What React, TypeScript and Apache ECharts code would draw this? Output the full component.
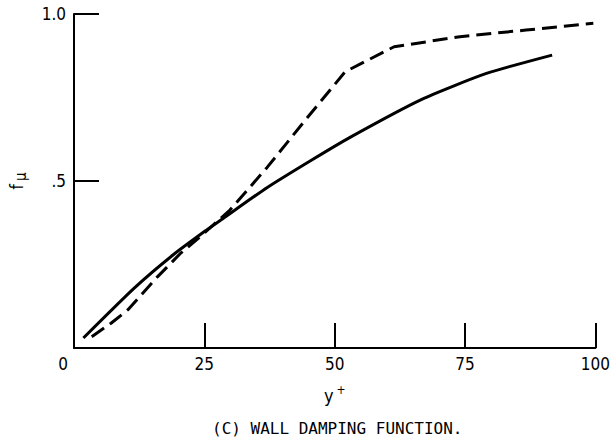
import React, { useEffect, useRef } from "react";
import * as echarts from "echarts";

const yTickLabels: Record<string, string> = { "0": "", "0.5": ".5", "1": "1.0" };

const solidX = [1.8, 11.6, 19.1, 25.4, 28.6, 37, 45.6, 53.2, 66.5, 79.1, 91.7];
const solidY = [0.03, 0.18, 0.28, 0.353, 0.388, 0.48, 0.563, 0.633, 0.743, 0.822, 0.877];

const dashedX = [3.4, 7.1, 10.3, 16, 20.4, 24.2, 29.9, 37, 44.4, 52, 61.4, 74, 86.7, 99.6];
const dashedY = [0.034, 0.074, 0.114, 0.213, 0.283, 0.333, 0.413, 0.54, 0.683, 0.827, 0.902, 0.932, 0.952, 0.972];

const caption = "(C) WALL DAMPING FUNCTION.";
const FONT = "DejaVu Sans Condensed";
const MONO = "DejaVu Sans Mono";

export default function App() {
  const ref = useRef<HTMLDivElement>(null);
  useEffect(() => {
    if (!ref.current) return;
    const chart = echarts.init(ref.current, null, { renderer: "svg" });
    chart.setOption({
      animation: false,
      backgroundColor: "#ffffff",
      grid: { left: 70, right: 16, top: 14, bottom: 94 },
      xAxis: {
        type: "value",
        min: 0,
        max: 100,
        interval: 25,
        name: "{y|y}{p|+}",
        nameLocation: "middle",
        nameGap: 36,
        nameTextStyle: {
          rich: {
            y: { fontFamily: FONT, fontSize: 18, color: "#000" },
            p: { fontFamily: FONT, fontSize: 12, color: "#000", padding: [0, 0, 10, 3] },
          },
        },
        axisLine: { show: true, lineStyle: { color: "#000", width: 2 } },
        axisTick: { show: true, inside: true, length: 25, lineStyle: { color: "#000", width: 2 } },
        splitLine: { show: false },
        axisLabel: {
          margin: 7,
          color: "#000",
          fontFamily: FONT,
          fontSize: 17,
          formatter: (v: number) => (v === 0 ? "{z|0}" : String(v)),
          rich: { z: { fontFamily: FONT, fontSize: 17, color: "#000", padding: [0, 22, 0, 0] } },
        },
      },
      yAxis: {
        type: "value",
        min: 0,
        max: 1,
        interval: 0.5,
        name: "{f|f}{s|μ}",
        nameLocation: "middle",
        nameRotate: 90,
        nameGap: 46,
        nameTextStyle: {
          rich: {
            f: { fontFamily: FONT, fontSize: 17, color: "#000" },
            s: { fontFamily: FONT, fontSize: 15, color: "#000", padding: [8, 0, 0, 3] },
          },
        },
        axisLine: { show: true, lineStyle: { color: "#000", width: 2 } },
        axisTick: { show: true, inside: true, length: 25, lineStyle: { color: "#000", width: 2 } },
        splitLine: { show: false },
        axisLabel: {
          margin: 8,
          color: "#000",
          fontFamily: FONT,
          fontSize: 17,
          formatter: (v: number) => yTickLabels[String(v)] ?? "",
        },
      },
      graphic: [
        {
          type: "text",
          left: 212,
          top: 420,
          style: {
            text: caption,
            fontFamily: MONO,
            fontSize: 16,
            fill: "#000",
          },
        },
      ],
      series: [
        {
          type: "line",
          data: solidX.map((x, i) => [x, solidY[i]]),
          smooth: 0.2,
          symbol: "none",
          lineStyle: { color: "#000", width: 3 },
        },
        {
          type: "line",
          data: dashedX.map((x, i) => [x, dashedY[i]]),
          smooth: false,
          symbol: "none",
          lineStyle: { color: "#000", width: 3, type: [15, 7] },
        },
      ],
    });
    return () => chart.dispose();
  }, []);
  return (
    <div
      ref={ref}
      style={{ position: "fixed", left: 0, top: 0, width: 613, height: 442, background: "#fff" }}
    />
  );
}
